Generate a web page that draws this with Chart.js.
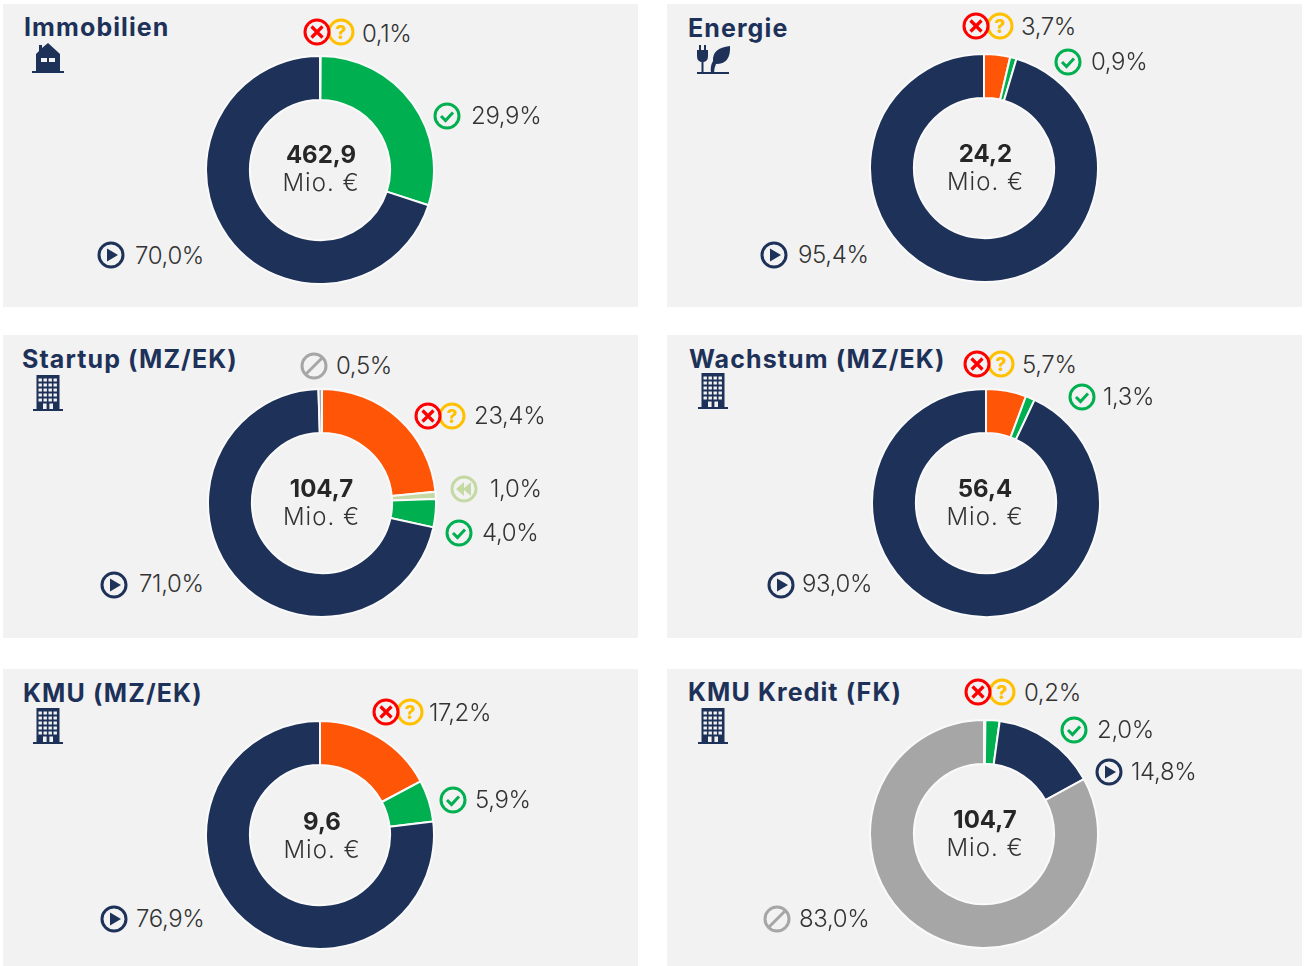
<!DOCTYPE html>
<html>
<head>
<meta charset="utf-8">
<script src="https://cdn.jsdelivr.net/npm/chart.js@4/dist/chart.umd.min.js"></script>
<style>
html, body { margin: 0; padding: 0; background: #fff; }
#page { position: relative; width: 1306px; height: 966px; overflow: hidden; font-family: Inter, sans-serif; color: #333; }
.panel { position: absolute; width: 635px; background: #f2f2f2; }
.donut { position: absolute; width: 230px; height: 230px; }
.title { position: absolute; font-size: 25px; font-weight: 700; letter-spacing: 1.1px; color: #1d3159; line-height: 30px; white-space: nowrap; }
.pct { position: absolute; font-size: 24px; font-weight: 300; letter-spacing: -0.35px; line-height: 30px; white-space: nowrap; }
.total { position: absolute; width: 140px; text-align: center; font-size: 24px; line-height: 28px; }
.total b { display: block; font-weight: 700; color: #262626; }
.total span { display: block; font-weight: 300; letter-spacing: 1px; }
svg.icon { position: absolute; overflow: visible; }
</style>
</head>
<body>
<div id="page"></div>
<script>
const categories = ['Ausgefallen/Unklar', 'Rückzahlung', 'Beendet', 'Läuft', 'Sonstige'];
const titles = ['Immobilien', 'Energie', 'Startup (MZ/EK)', 'Wachstum (MZ/EK)', 'KMU (MZ/EK)', 'KMU Kredit (FK)'];
const totals = ['462,9', '24,2', '104,7', '56,4', '9,6', '104,7'];
const unit = 'Mio. €';

const immobilien = [0.1, 0, 29.9, 70.0, 0];
const energie = [3.7, 0, 0.9, 95.4, 0];
const startup = [23.4, 1.0, 4.0, 71.0, 0.5];
const wachstum = [5.7, 0, 1.3, 93.0, 0];
const kmu = [17.2, 0, 5.9, 76.9, 0];
const kmuKredit = [0.2, 0, 2.0, 14.8, 83.0];
const series = [immobilien, energie, startup, wachstum, kmu, kmuKredit];

const colors = ['#ff5506', '#c5d9a4', '#00b050', '#1d3159', '#a6a6a6'];

// panel boxes, donut top-left and centre text spot
const panels = [
    {x: 3, y: 4, h: 303, dx: 205, dy: 55, mx: 321, my: 155, tx: 24, ty: 12, icon: 'house', ix: 48, iy: 58},
    {x: 667, y: 4, h: 303, dx: 869, dy: 53, mx: 985.5, my: 154, tx: 688, ty: 13, icon: 'plant', ix: 713, iy: 60},
    {x: 3, y: 335, h: 303, dx: 207, dy: 388, mx: 321.5, my: 489, tx: 22, ty: 344, icon: 'building', ix: 48, iy: 393},
    {x: 667, y: 335, h: 303, dx: 871, dy: 388, mx: 985, my: 489, tx: 689, ty: 344, icon: 'building', ix: 713, iy: 391},
    {x: 3, y: 669, h: 297, dx: 205, dy: 720, mx: 322, my: 822, tx: 23, ty: 678, icon: 'building', ix: 48, iy: 726},
    {x: 667, y: 669, h: 297, dx: 869, dy: 719, mx: 985, my: 820, tx: 688, ty: 677, icon: 'building', ix: 713, iy: 726},
];

// label spots per panel, by category index: icon x, icon y, text x, text y
const labelSpots = [
    {0: [317, 32, 362, 34], 2: [447, 116, 471, 116], 3: [111, 255, 135, 256]},
    {0: [976, 26, 1021, 27], 2: [1068, 62, 1091, 62], 3: [774, 255, 798, 255]},
    {0: [428, 416, 474, 416], 1: [464, 489, 490, 489], 2: [459, 533, 482, 533], 3: [114, 585, 139, 584], 4: [314, 366, 336, 366]},
    {0: [977, 364, 1022, 365], 2: [1082, 397, 1103, 397], 3: [781, 585, 802, 584]},
    {0: [386, 712, 429, 713], 2: [453, 800, 475, 800], 3: [114, 919, 136, 919]},
    {0: [978, 692, 1024, 693], 2: [1074, 730, 1097, 730], 3: [1109, 772, 1131, 772], 4: [777, 919, 799, 919]},
];

const page = document.getElementById('page');

const ring = (col) => `<circle cx="0" cy="0" r="12" fill="none" stroke="${col}" stroke-width="3"/>`;

const statusIcons = {
    0: `<circle cx="24" cy="0" r="12" fill="none" stroke="#ffc000" stroke-width="3"/>
        <text x="24" y="7" text-anchor="middle" font-size="19" font-weight="800" fill="#ffc000">?</text>
        <circle cx="0" cy="0" r="12" fill="#f2f2f2" stroke="#ff0000" stroke-width="3"/>
        <path d="M-5.5 -5.5 L5.5 5.5 M5.5 -5.5 L-5.5 5.5" stroke="#ff0000" stroke-width="3.2" fill="none"/>`,
    1: ring('#c5d9a4') + `<path d="M-1 0 L7 -7 V7 Z M-8 0 L0 -7 V7 Z" fill="#c5d9a4"/>`,
    2: ring('#00b050') + `<path d="M-6 0 L-1.5 4.5 L6 -3.5" stroke="#00b050" stroke-width="3" fill="none"/>`,
    3: ring('#1d3159') + `<path d="M-4 -6.5 L7 0 L-4 6.5 Z" fill="#1d3159"/>`,
    4: ring('#a6a6a6') + `<path d="M-8 8 L8 -8" stroke="#a6a6a6" stroke-width="3"/>`,
};

const buildingWindows = () => {
    let s = '';
    for (let r = 0; r < 5; r++) {
        for (let c = 0; c < 4; c++) {
            s += `<rect x="${-9.5 + c * 5}" y="${-14.5 + r * 5}" width="3.4" height="3" fill="#f2f2f2"/>`;
        }
    }
    return s;
};

const sectorIcons = {
    house: `<path d="M-9 -13 H-6 V-10 L0 -15 L12 -4 V13 H-12 V-4 L-9 -7 Z" fill="#1d3159"/>
        <rect x="-16" y="13" width="32" height="2" fill="#1d3159"/>
        <rect x="-7" y="0" width="6" height="4" fill="#f2f2f2"/><rect x="1" y="0" width="6" height="4" fill="#f2f2f2"/>`,
    plant: `<path d="M-13 -15 V-10 M-8 -15 V-10" stroke="#1d3159" stroke-width="2"/>
        <path d="M-16 -10 H-5 V-4 Q-5 2 -10.5 2 Q-16 2 -16 -4 Z" fill="#1d3159"/>
        <rect x="-11.5" y="1" width="2" height="12" fill="#1d3159"/>
        <path d="M-2 13 Q-3 6 0 1 Q-1 -12 17 -14 Q18 4 3 4 Q1 8 1 13 Z" fill="#1d3159"/>
        <rect x="-16" y="12" width="32" height="2" fill="#1d3159"/>`,
    building: `<rect x="-11.5" y="-18" width="23" height="34" fill="#1d3159"/>
        <rect x="-15" y="16" width="30" height="2" fill="#1d3159"/>` + buildingWindows() +
        `<rect x="-5" y="10.5" width="3.6" height="5.5" fill="#f2f2f2"/><rect x="1.4" y="10.5" width="3.6" height="5.5" fill="#f2f2f2"/>`,
};

const addSvg = (markup, x, y) => {
    const ns = 'http://www.w3.org/2000/svg';
    const el = document.createElementNS(ns, 'svg');
    el.setAttribute('class', 'icon');
    el.setAttribute('width', '1');
    el.setAttribute('height', '1');
    el.style.left = x + 'px';
    el.style.top = y + 'px';
    el.innerHTML = markup;
    page.appendChild(el);
};

const addText = (cls, text, x, y) => {
    const el = document.createElement('div');
    el.className = cls;
    el.textContent = text;
    el.style.left = x + 'px';
    el.style.top = y + 'px';
    page.appendChild(el);
};

const formatPct = (v) => v.toFixed(1).replace('.', ',') + '%';

panels.forEach((p, i) => {
    const box = document.createElement('div');
    box.className = 'panel';
    box.style.left = p.x + 'px';
    box.style.top = p.y + 'px';
    box.style.height = p.h + 'px';
    page.appendChild(box);

    const holder = document.createElement('div');
    holder.className = 'donut';
    holder.style.left = p.dx + 'px';
    holder.style.top = p.dy + 'px';
    const canvas = document.createElement('canvas');
    holder.appendChild(canvas);
    page.appendChild(holder);

    new Chart(canvas, {
        type: 'doughnut',
        data: {
            labels: categories,
            datasets: [{
                data: series[i],
                backgroundColor: colors,
                borderColor: '#fafafa',
                borderWidth: 2,
            }],
        },
        options: {
            responsive: true,
            maintainAspectRatio: false,
            animation: false,
            cutout: '61.5%',
            layout: { padding: 0 },
            plugins: { legend: { display: false }, tooltip: { enabled: false } },
        },
    });

    addText('title', titles[i], p.tx, p.ty);
    addSvg(sectorIcons[p.icon], p.ix, p.iy);

    const total = document.createElement('div');
    total.className = 'total';
    total.style.left = (p.mx - 70) + 'px';
    total.style.top = (p.my - 14) + 'px';
    total.innerHTML = `<b>${totals[i]}</b><span>${unit}</span>`;
    page.appendChild(total);

    series[i].forEach((v, c) => {
        if (!v) return;
        const s = labelSpots[i][c];
        addSvg(statusIcons[c], s[0], s[1]);
        addText('pct', formatPct(v), s[2], s[3] - 15);
    });
});
</script>
</body>
</html>
